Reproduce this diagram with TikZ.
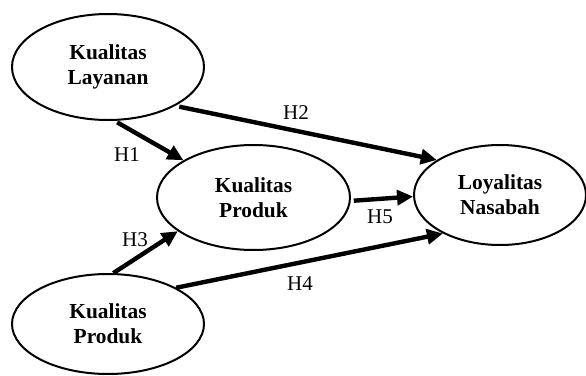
\documentclass[tikz,border=0pt]{standalone}
\usepackage{fontspec}
\setmainfont{Liberation Serif}
\usetikzlibrary{arrows.meta,shapes.geometric}

\begin{document}
\begin{tikzpicture}[x=0.5pt,y=-0.5pt,
    var/.style={ellipse,draw,line width=1pt,inner sep=0pt,align=center,
      font=\fontsize{10.7}{12.5}\selectfont\bfseries},
    hyp/.style={font=\fontsize{10.5}{12.5}\selectfont},
    move/.style={-{Triangle[length=8pt,width=7.5pt]},line width=2.2pt,draw}]

    \useasboundingbox (0,0) rectangle (586,376);
    \node[var,minimum width=96pt,minimum height=53pt] (kl) at (108,67) {Kualitas\\Layanan};
    \node[var,minimum width=96.5pt,minimum height=52.5pt] (kp) at (253.5,197.5) {Kualitas\\Produk};
    \node[var,minimum width=86pt,minimum height=50pt] (ln) at (500,195) {Loyalitas\\Nasabah};
    \node[var,minimum width=96pt,minimum height=50pt] (kb) at (108,324) {Kualitas\\Produk};

    \node[hyp] (h1) at (127,155) {H1};
    \node[hyp] (h2) at (296,113) {H2};
    \node[hyp] (h3) at (135,240) {H3};
    \node[hyp] (h4) at (300,284) {H4};
    \node[hyp] (h5) at (380,217) {H5};

    \path[move,shorten <=1.5pt] (kl.-83) -- (kp.152);
    \path[move,shorten <=2pt] (kl.-30) -- (ln.151.6);
    \path[move] (kb.84.5) -- (kp.204.7);
    \path[move] (kb.28.2) -- (ln.214.4);
    \path[move,shorten <=1.5pt] (kp.-2.6) -- (ln.181.3);

  \end{tikzpicture}
\end{document}
